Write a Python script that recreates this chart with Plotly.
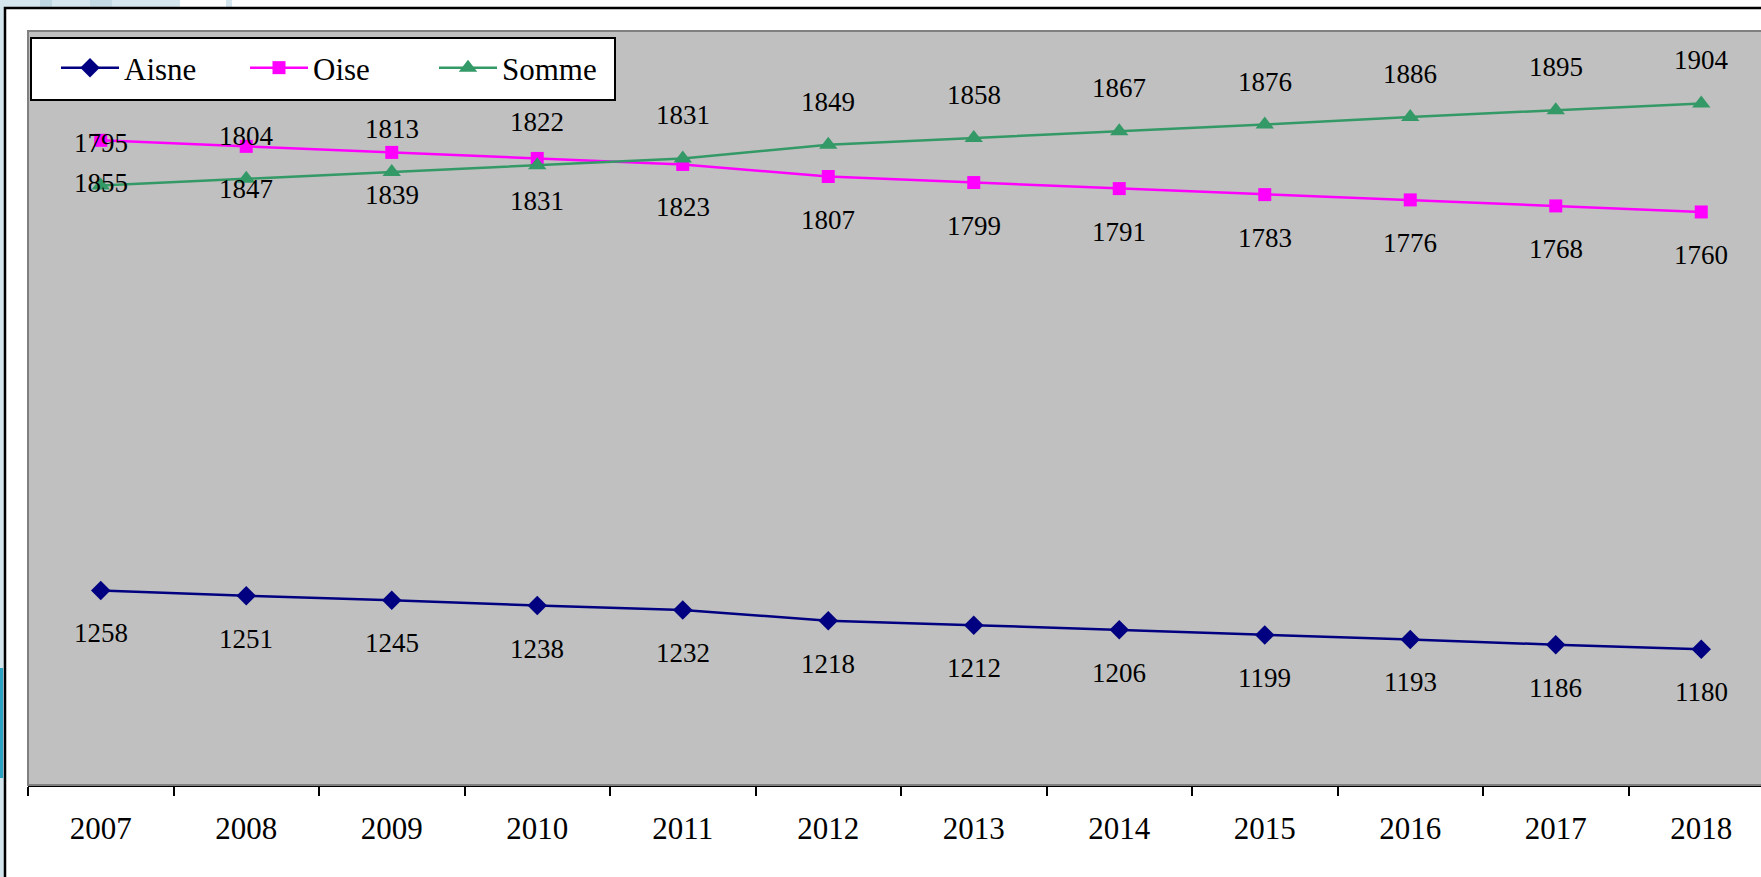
import plotly.graph_objects as go

# ---- data ----
years = ["2007", "2008", "2009", "2010", "2011", "2012",
         "2013", "2014", "2015", "2016", "2017", "2018"]
aisne = [1258, 1251, 1245, 1238, 1232, 1218, 1212, 1206, 1199, 1193, 1186, 1180]
oise = [1855, 1847, 1839, 1831, 1823, 1807, 1799, 1791, 1783, 1776, 1768, 1760]
somme = [1795, 1804, 1813, 1822, 1831, 1849, 1858, 1867, 1876, 1886, 1895, 1904]
series_names = ["Aisne", "Oise", "Somme"]

# ---- styles ----
series_values = {"Aisne": aisne, "Oise": oise, "Somme": somme}
colors = {"Aisne": "#000080", "Oise": "#FF00FF", "Somme": "#339966"}
symbols = {"Aisne": "diamond", "Oise": "square", "Somme": "triangle-up"}
msizes = {"Aisne": 15, "Oise": 13, "Somme": 16}
label_shift = {"Aisne": -43, "Oise": -43, "Somme": 43}
FONT = "Liberation Serif"

W, H = 1761, 877
L, T, B = 28, 31, 92
plot_w = W - L
plot_h = H - T - B
cat_w = 145.5


def px_x(x):
    return (x - L) / plot_w


def px_y(y):
    return (H - B - y) / plot_h


fig = go.Figure()
for name in series_names:
    fig.add_trace(go.Scatter(
        x=years, y=series_values[name], name=name, mode="lines+markers",
        line=dict(color=colors[name], width=2.5),
        marker=dict(symbol=symbols[name], size=msizes[name], color=colors[name],
                    line=dict(width=0)),
    ))

annotations = []
for name in series_names:
    for i, v in enumerate(series_values[name]):
        annotations.append(dict(
            x=i, y=v, xref="x", yref="y", text=str(v), showarrow=False,
            yshift=label_shift[name], yanchor="middle", xanchor="center",
            font=dict(family=FONT, size=27, color="black"),
        ))

shapes = [
    # decorative background strips outside the frame
    dict(type="rect", xref="paper", yref="paper", x0=px_x(0), x1=px_x(4),
         y0=px_y(H + 5), y1=px_y(0), fillcolor="#D3E5ED", line=dict(width=0), layer="below"),
    dict(type="rect", xref="paper", yref="paper", x0=px_x(0), x1=px_x(180),
         y0=px_y(7), y1=px_y(0), fillcolor="#D6E6EE", line=dict(width=0), layer="below"),
    dict(type="rect", xref="paper", yref="paper", x0=px_x(40), x1=px_x(52),
         y0=px_y(7), y1=px_y(0), fillcolor="#BFD7E3", line=dict(width=0), layer="below"),
    dict(type="rect", xref="paper", yref="paper", x0=px_x(90), x1=px_x(112),
         y0=px_y(7), y1=px_y(0), fillcolor="#C3D9E4", line=dict(width=0), layer="below"),
    dict(type="rect", xref="paper", yref="paper", x0=px_x(226), x1=px_x(232),
         y0=px_y(7), y1=px_y(0), fillcolor="#D6E6EE", line=dict(width=0), layer="below"),
    dict(type="rect", xref="paper", yref="paper", x0=px_x(0), x1=px_x(3),
         y0=px_y(778), y1=px_y(668), fillcolor="#2AA3C2", line=dict(width=0), layer="below"),
    # outer black frame
    dict(type="rect", xref="paper", yref="paper", x0=px_x(5), x1=px_x(W + 20),
         y0=px_y(H + 20), y1=px_y(8), line=dict(color="black", width=2.5),
         fillcolor="rgba(0,0,0,0)", layer="below"),
    # gray plot-area border
    dict(type="rect", xref="paper", yref="paper", x0=0, x1=px_x(W + 20),
         y0=0, y1=1, line=dict(color="#808080", width=2),
         fillcolor="rgba(0,0,0,0)", layer="above"),
    # legend box
    dict(type="rect", xref="paper", yref="paper", x0=px_x(31), x1=px_x(615),
         y0=px_y(100), y1=px_y(38), line=dict(color="black", width=2),
         fillcolor="white", layer="above"),
]

fig.update_layout(
    width=W, height=H, autosize=False,
    margin=dict(l=L, r=0, t=T, b=B, pad=0),
    paper_bgcolor="white", plot_bgcolor="#C0C0C0",
    font=dict(family=FONT, color="black"),
    showlegend=True,
    legend=dict(
        orientation="h", x=px_x(56), y=px_y(41), xanchor="left", yanchor="top",
        bgcolor="rgba(0,0,0,0)", borderwidth=0,
        font=dict(family=FONT, size=31, color="black"),
        itemwidth=58, entrywidth=116, entrywidthmode="pixels",
    ),
    annotations=annotations,
    shapes=shapes,
    hovermode=False,
)
fig.update_xaxes(
    type="category", range=[-0.5, -0.5 + plot_w / cat_w],
    showline=True, linecolor="black", linewidth=2,
    ticks="outside", tickson="boundaries", ticklen=9, tickwidth=2, tickcolor="black",
    tickfont=dict(family=FONT, size=31, color="black"),
    showgrid=False, zeroline=False, ticklabelstandoff=15,
)
fig.update_yaxes(
    range=[1000, 2000], showticklabels=False, showgrid=False, zeroline=False,
    showline=False, ticks="",
)

fig.write_html("out.html", config={"displayModeBar": False},
               post_script="document.body.style.margin='0';document.body.style.overflow='hidden';")
